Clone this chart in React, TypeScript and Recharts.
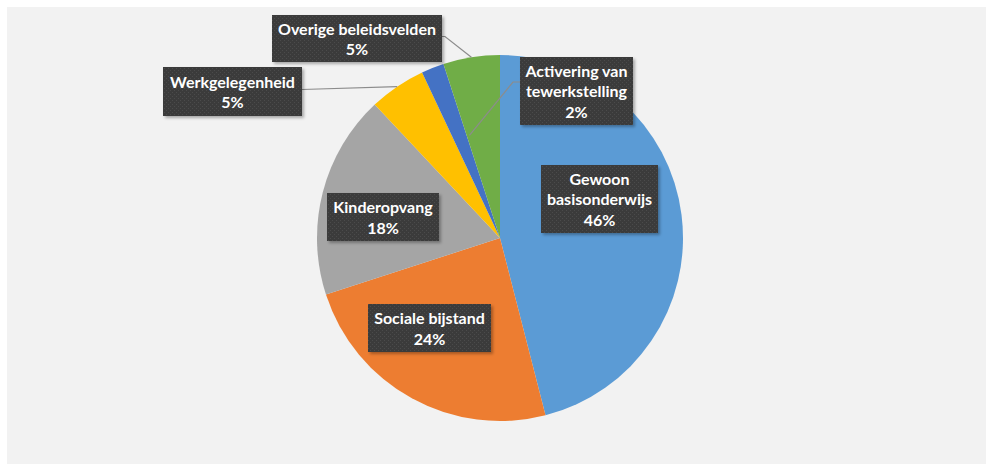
import React from "react";
import { PieChart, Pie, Cell } from "recharts";

// budget share per policy area (%)
const categories = [
  "Gewoon basisonderwijs",
  "Sociale bijstand",
  "Kinderopvang",
  "Werkgelegenheid",
  "Activering van tewerkstelling",
  "Overige beleidsvelden",
];
const shares = [46, 24, 18, 5, 2, 5];
const colors = ["#5B9BD5", "#ED7D31", "#A5A5A5", "#FFC000", "#4472C4", "#70AD47"];

// label box placement relative to pie centre; leader: where the line leaves the box
const labelLayout = [
  { dx: 99.5, dy: -39, w: 117, h: 68, firstLineWords: 1, leader: null },
  { dx: -70.5, dy: 90, w: 123, h: 48, firstLineWords: 2, leader: null },
  { dx: -117, dy: -21, w: 112, h: 48, firstLineWords: 1, leader: null },
  { dx: -267.5, dy: -146.5, w: 139, h: 49, firstLineWords: 1, leader: { side: "right", y: -2, elbow: 0, angleShift: 0, rf: 1 } },
  { dx: 76.5, dy: -147, w: 113, h: 68, firstLineWords: 2, leader: { side: "left", y: -9, elbow: 7, angleShift: -5, rf: 0.585 } },
  { dx: -143, dy: -199.5, w: 170, h: 47, firstLineWords: 2, leader: { side: "right", y: -2, elbow: 3, angleShift: 0, rf: 1 } },
];

const data = categories.map((name, i) => ({ name, value: shares[i] }));
const total = shares.reduce((a, b) => a + b, 0);

const RAD = Math.PI / 180;
const polar = (cx: number, cy: number, r: number, angle: number) => ({
  x: cx + r * Math.cos(-angle * RAD),
  y: cy + r * Math.sin(-angle * RAD),
});

const renderLabel = (props: any) => {
  const { cx, cy, midAngle, outerRadius, index, value } = props;
  const l = labelLayout[index];
  const bx = cx + l.dx;
  const by = cy + l.dy;
  const words = categories[index].split(" ");
  const lines = [words.slice(0, l.firstLineWords).join(" ")];
  if (words.length > l.firstLineWords) lines.push(words.slice(l.firstLineWords).join(" "));
  lines.push(`${Math.round((value / total) * 100)}%`);
  const lineH = 20.5;
  const top = by - (lines.length * lineH) / 2;

  let leader = null;
  if (l.leader) {
    const sx = l.leader.side === "right" ? bx + l.w / 2 : bx - l.w / 2;
    const sy = by + l.leader.y;
    const ex = l.leader.side === "right" ? sx + l.leader.elbow : sx - l.leader.elbow;
    const end = polar(cx, cy, outerRadius * l.leader.rf, midAngle + l.leader.angleShift);
    leader = (
      <polyline
        points={`${sx},${sy} ${ex},${sy} ${end.x},${end.y}`}
        fill="none"
        stroke="#8c8c8c"
        strokeWidth={1.2}
      />
    );
  }

  return (
    <g key={`lbl-${index}`}>
      {leader}
      <rect
        x={bx - l.w / 2}
        y={by - l.h / 2}
        width={l.w}
        height={l.h}
        fill="url(#dotFill)"
        filter="url(#boxShadow)"
      />
      {lines.map((t, i) => (
        <text
          key={i}
          x={bx}
          y={top + lineH * (i + 1) - 4}
          textAnchor="middle"
          fill="#ffffff"
          fontFamily="Lato, 'Open Sans', sans-serif"
          fontWeight={700}
          fontSize={16}
        >
          {t}
        </text>
      ))}
    </g>
  );
};

export default function App() {
  return (
    <div style={{ position: "absolute", left: 0, top: 0, width: 986, height: 464, background: "#ffffff" }}>
      <div style={{ position: "absolute", left: 7, top: 7, width: 979, height: 457, background: "#f2f2f2" }} />
      <div style={{ position: "absolute", left: 0, top: 0 }}>
        <PieChart width={986} height={464} margin={{ top: 0, right: 0, bottom: 0, left: 0 }}>
          <defs>
            <pattern id="dotFill" width="4" height="4" patternUnits="userSpaceOnUse">
              <rect width="4" height="4" fill="#3a3a3a" />
              <rect x="0" y="0" width="1" height="1" fill="#4c4c4c" />
              <rect x="2" y="2" width="1" height="1" fill="#4c4c4c" />
            </pattern>
            <filter id="boxShadow" x="-10%" y="-10%" width="130%" height="140%">
              <feDropShadow dx="2" dy="2" stdDeviation="1.5" floodColor="#000" floodOpacity="0.3" />
            </filter>
          </defs>
          <Pie
            data={data}
            dataKey="value"
            nameKey="name"
            cx={500}
            cy={238}
            outerRadius={183}
            startAngle={90}
            endAngle={-270}
            stroke="none"
            label={renderLabel}
            labelLine={false}
            isAnimationActive={false}
          >
            {data.map((d, i) => (
              <Cell key={d.name} fill={colors[i]} />
            ))}
          </Pie>
        </PieChart>
      </div>
    </div>
  );
}
